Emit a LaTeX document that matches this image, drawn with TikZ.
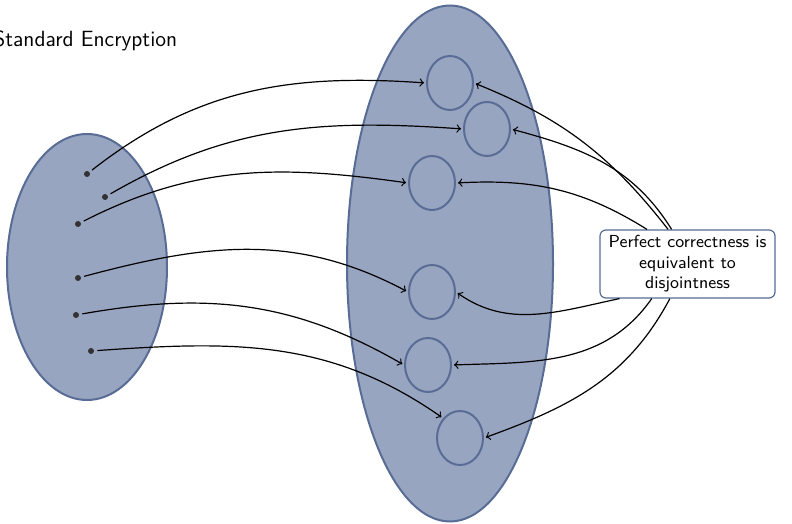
\documentclass[tikz,border=0pt]{standalone}
\usepackage{fontspec}
\usetikzlibrary{calc,shapes.geometric}
\definecolor{setfill}{RGB}{152,165,192}
\definecolor{setdraw}{RGB}{88,108,150}
\definecolor{dotc}{RGB}{50,50,50}
\tikzset{
  setshape/.style={fill=setfill,draw=setdraw,line width=1pt},
  ctext/.style={draw=setdraw,line width=1pt,ellipse,minimum width=23pt,minimum height=27pt,inner sep=0pt},
  pt/.style={circle,fill=dotc,inner sep=0pt,minimum size=3pt},
  arr/.style={->,line width=0.6pt,shorten >=1pt,shorten <=1.5pt},
  lbl/.style={draw=setdraw,line width=0.6pt,rounded corners=3pt,fill=white,minimum width=87.5pt,minimum height=34pt,align=center,inner sep=1pt,font=\sffamily\fontsize{8.7pt}{10.25pt}\selectfont}
}
\begin{document}
\begin{tikzpicture}[x=0.5pt,y=0.5pt]
\useasboundingbox (0,0) rectangle (792,524);
\node[anchor=base west,inner sep=0pt,font=\sffamily\fontsize{11pt}{13pt}\selectfont] (title) at (-7,477) {Standard Encryption};
% sets
\draw[setshape] (87,257) ellipse [x radius=80, y radius=133];
\draw[setshape] (450,260.5) ellipse [x radius=103, y radius=258];
% inner circles
\node[ctext] (c1) at (450,441) {};
\node[ctext] (c2) at (487,395) {};
\node[ctext] (c3) at (432,341) {};
\node[ctext] (c4) at (432,232) {};
\node[ctext] (c5) at (428,159) {};
\node[ctext] (c6) at (460,86) {};
% points
\node[pt] (p1) at (87,350) {};
\node[pt] (p2) at (105,327) {};
\node[pt] (p3) at (78,300) {};
\node[pt] (p4) at (78,246) {};
\node[pt] (p5) at (76,209) {};
\node[pt] (p6) at (91,173) {};
% label
\node[lbl] (b) at (687.5,260) {Perfect correctness is\\equivalent to\\disjointness};
% arrows points -> circles
\draw[arr] (p1) to[out=38,in=176] (c1.west);
\draw[arr] (p2) to[out=30,in=176] (c2.west);
\draw[arr] (p3) to[out=27,in=172] (c3.west);
\draw[arr] (p4) to[out=15,in=152] (c4.west);
\draw[arr] (p5) to[out=10,in=150] (c5.west);
\draw[arr] (p6) to[out=4,in=145] (c6.north west);
% arrows label -> circles
\coordinate (t1) at ($(b.north west)!0.39!(b.north east)$);
\coordinate (t2) at ($(b.north west)!0.41!(b.north east)$);
\coordinate (t3) at ($(b.north west)!0.27!(b.north east)$);
\coordinate (u4) at ($(b.south west)!0.114!(b.south east)$);
\coordinate (u5) at ($(b.south west)!0.297!(b.south east)$);
\coordinate (u6) at ($(b.south west)!0.40!(b.south east)$);
\draw[arr,shorten <=0pt] (t1) to[out=128,in=-22] (c1.east);
\draw[arr,shorten <=0pt] (t2) to[out=122,in=-15] (c2.east);
\draw[arr,shorten <=0pt] (t3) to[out=148,in=3] (c3.east);
\draw[arr,shorten <=0pt] (u4) to[out=192,in=-35] (c4.east);
\draw[arr,shorten <=0pt] (u5) to[out=-125,in=2] (c5.east);
\draw[arr,shorten <=0pt] (u6) to[out=-118,in=20] (c6.east);
\end{tikzpicture}
\end{document}
